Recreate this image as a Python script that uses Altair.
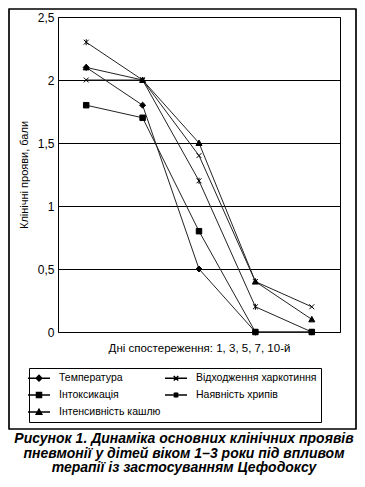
import altair as alt
import pandas as pd

days = ["1", "3", "5", "7", "10"]
series_names = ["Температура", "Інтоксикація", "Інтенсивність кашлю",
                "Відходження харкотиння", "Наявність хрипів"]
temperature = [2.1, 1.8, 0.5, 0.0, 0.0]
intoxication = [1.8, 1.7, 0.8, 0.0, 0.0]
cough = [2.1, 2.0, 1.5, 0.4, 0.1]
sputum = [2.0, 2.0, 1.4, 0.4, 0.2]
rales = [2.3, 2.0, 1.2, 0.2, 0.0]
y_ticks = [0, 0.5, 1, 1.5, 2, 2.5]
caption = [
    "Рисунок 1. Динаміка основних клінічних проявів",
    "пневмонії у дітей віком 1–3 роки під впливом",
    "терапії із застосуванням Цефодоксу",
]

rows = []
for name, vals in zip(series_names, [temperature, intoxication, cough, sputum, rales]):
    for d, v in zip(days, vals):
        rows.append({"day": d, "value": v, "series": name})
df = pd.DataFrame(rows)

marker_paths = [
    "M0,-1.1L1.1,0L0,1.1L-1.1,0Z",
    "M-1,-1L1,-1L1,1L-1,1Z",
    "M0,-1.1L1.1,0.9L-1.1,0.9Z",
    "M-0.9,-0.9L0.9,0.9M-0.9,0.9L0.9,-0.9",
    "M-0.9,-0.9L0.9,0.9M-0.9,0.9L0.9,-0.9M0,-1.1L0,1.1",
]
legend_paths = [
    "M-2.2,0L2.2,0M0,-0.55L0.55,0L0,0.55L-0.55,0Z",
    "M-2.2,0L2.2,0M-0.5,-0.5L0.5,-0.5L0.5,0.5L-0.5,0.5Z",
    "M-2.2,0L2.2,0M0,-0.55L0.55,0.45L-0.55,0.45Z",
    "M-2.2,0L2.2,0M-0.45,-0.45L0.45,0.45M-0.45,0.45L0.45,-0.45",
    "M-2.2,0L2.2,0M-0.45,-0.45L0.45,0.45M-0.45,0.45L0.45,-0.45M0,-0.55L0,0.55",
]

FONT = "Liberation Sans"

base = alt.Chart(df).encode(
    x=alt.X("day:O", sort=days,
            scale=alt.Scale(type="point", padding=0.5),
            axis=alt.Axis(title="Дні спостереження: 1, 3, 5, 7, 10-й",
                          labels=False, ticks=False, domain=False, grid=False,
                          titlePadding=10, titleFontWeight="normal",
                          titleFontSize=11.5, titleFont=FONT, titleColor="black")),
    y=alt.Y("value:Q",
            scale=alt.Scale(domain=[0, 2.5], nice=False),
            axis=alt.Axis(values=y_ticks, title="Клінічні прояви, бали",
                          grid=True, gridColor="black", gridOpacity=1,
                          ticks=False, domain=False, labelPadding=4,
                          labelExpr="replace(toString(datum.value), '.', ',')",
                          labelFontSize=12, labelFont=FONT, labelColor="black",
                          titleFontWeight="normal", titleFontSize=11, titleFont=FONT,
                          titleColor="black", titlePadding=8)),
)

lines = base.mark_line(color="#222222", strokeWidth=1).encode(detail="series:N")

point_layers = [
    base.transform_filter(alt.datum.series == name).mark_point(
        shape=path, filled=True, size=30, color="black", stroke="black",
        strokeWidth=1, opacity=1)
    for name, path in zip(series_names, marker_paths)
]

legend_layer = base.mark_point(fill="black", size=100, color="black",
                               strokeWidth=1, opacity=1).encode(
    shape=alt.Shape("series:N",
                    scale=alt.Scale(domain=series_names, range=legend_paths),
                    legend=alt.Legend(title=None, orient="none", legendX=-29, legendY=351,
                                      columns=2, strokeColor="black", padding=4,
                                      labelFont=FONT, labelFontSize=10.5, labelColor="black",
                                      labelOffset=14, rowPadding=5, columnPadding=1,
                                      labelLimit=300))
).transform_filter("datum.value < -1")

# outer frame of the figure (drawn as the outline of a transparent gradient legend)
FL, FR, FT, FB = -49, 298, -8, 412
one = pd.DataFrame({"a": [0]})
frame = alt.Chart(one).mark_rect(fillOpacity=0, stroke="black", strokeWidth=1.2,
                                 clip=False).encode(
    x=alt.value(FL), x2=alt.value(FR), y=alt.value(FT), y2=alt.value(FB),
    color=alt.Color("a:Q",
                    scale=alt.Scale(domain=[0, 1],
                                    range=["rgba(0,0,0,0)", "rgba(0,0,0,0)"]),
                    legend=alt.Legend(type="gradient", direction="vertical",
                                      orient="none", legendX=FL, legendY=FT,
                                      gradientLength=FB - FT, gradientThickness=FR - FL,
                                      gradientStrokeColor="black", gradientStrokeWidth=1.2,
                                      padding=0, title=None, labelExpr="''",
                                      labelFontSize=1, labelOffset=0)))

chart = alt.layer(lines, *point_layers, legend_layer, frame).properties(
    width=282, height=315,
    autosize=alt.AutoSizeParams(type="none"),
    padding={"left": 50, "top": 9, "right": 17, "bottom": 147},
    title=alt.TitleParams(text=caption, orient="bottom", anchor="middle", frame="group",
                          dx=-15, font=FONT, fontSize=14, fontWeight="bold",
                          fontStyle="italic", lineHeight=14.5, offset=2, color="black"),
).configure_view(stroke="black")

chart.save("out.html", embed_options={"renderer": "svg", "actions": False})
